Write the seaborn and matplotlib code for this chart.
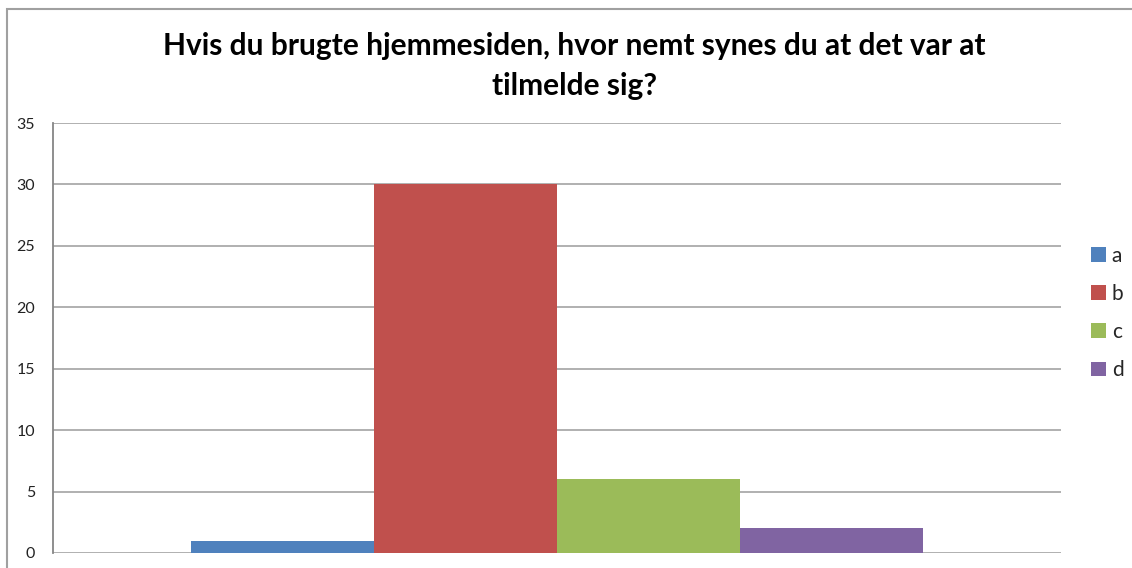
import pandas as pd
import matplotlib
matplotlib.use("Agg")
import matplotlib.pyplot as plt
import seaborn as sns
from matplotlib.patches import Rectangle

# data
svar = ["a", "b", "c", "d"]
antal = [1, 30, 6, 2]
farver = ["#4F81BD", "#C0504D", "#9BBB59", "#8064A2"]
y_ticks = [0, 5, 10, 15, 20, 25, 30, 35]
titel = "Hvis du brugte hjemmesiden, hvor nemt synes du at det var at\ntilmelde sig?"

df = pd.DataFrame({"kategori": [""] * len(svar), "svar": svar, "antal": antal})

sns.set_style("white")
plt.rcParams["font.family"] = ["Lato", "DejaVu Sans"]

fig = plt.figure(figsize=(11.32, 5.68), dpi=100)
ax = fig.add_axes([53 / 1132, 1 - 553 / 568, (1061 - 53) / 1132, (553 - 123) / 568])

sns.barplot(data=df, x="kategori", y="antal", hue="svar", palette=farver,
            width=0.727, saturation=1, linewidth=0, ax=ax, legend=True)

ax.set_xlim(-0.5, 0.5)
ax.set_ylim(0, 35)
ax.set_yticks(y_ticks)
ax.set_xticks([])
ax.set_xlabel("")
ax.set_ylabel("")
ax.tick_params(axis="y", labelsize=11.5, length=5, width=1, color="#868686",
               pad=8, labelcolor="#222222", direction="out")
ax.yaxis.grid(True, color="#AAAAAA", linewidth=1.3)
ax.set_axisbelow(True)
for side in ["top", "right", "bottom"]:
    ax.spines[side].set_visible(False)
ax.spines["left"].set_color("#868686")
ax.spines["left"].set_linewidth(1.3)

handles, labels = ax.get_legend_handles_labels()
ax.legend(handles, labels, loc="center left", bbox_to_anchor=(1091 / 1132, 1 - 313 / 568),
          bbox_transform=fig.transFigure, frameon=False, fontsize=15,
          handlelength=0.7, handleheight=0.7, handletextpad=0.3,
          labelspacing=0.87, borderpad=0, borderaxespad=0)

fig.text(574 / 1132, 1 - 66 / 568, titel, ha="center", va="center",
         fontsize=21.5, fontweight="bold", linespacing=1.55, color="black")

# outer chart frame
fig.patches.append(Rectangle((7 / 1132, -0.1), 1.2, 1 - 9.5 / 568 + 0.1,
                             transform=fig.transFigure, fill=False,
                             edgecolor="#A0A0A0", linewidth=1.5))

fig.savefig("out.png", dpi=100)
plt.close(fig)
